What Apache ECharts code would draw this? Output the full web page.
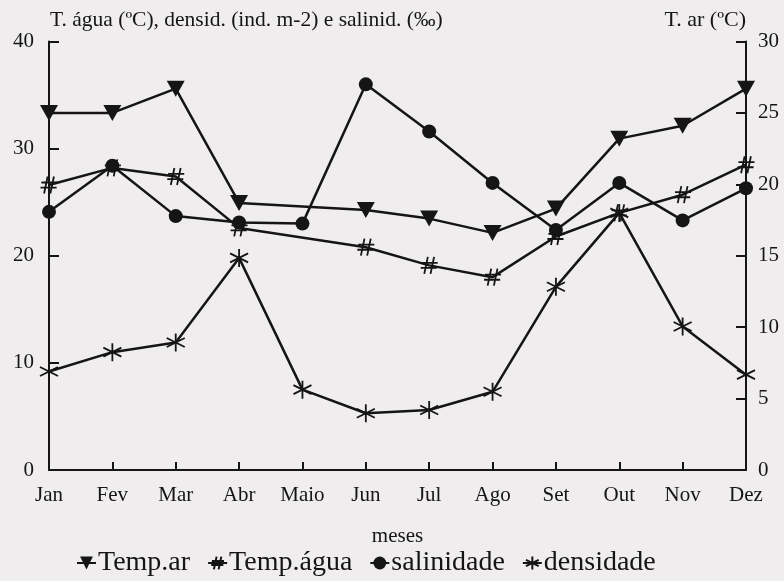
<!DOCTYPE html>
<html><head><meta charset="utf-8">
<script src="https://cdn.jsdelivr.net/npm/echarts@6/dist/echarts.min.js"></script>
<style>html,body{margin:0;padding:0;background:#efedee}#c{width:784px;height:581px}</style>
</head><body><div id="c"></div>
<script>
var months = ['Jan','Fev','Mar','Abr','Maio','Jun','Jul','Ago','Set','Out','Nov','Dez'];
var tempAr = [25.0, 25.0, 26.7, 18.7, null, 18.2, 17.6, 16.6, 18.3, 23.2, 24.1, 26.7];
var tempAgua = [26.6, 28.2, 27.4, 22.6, null, 20.8, 19.1, 18.0, 21.8, 24.0, 25.7, 28.5];
var salinidade = [24.1, 28.4, 23.7, 23.1, 23.0, 36.0, 31.6, 26.8, 22.4, 26.8, 23.3, 26.3];
var densidade = [9.2, 11.0, 11.9, 19.8, 7.5, 5.3, 5.6, 7.3, 17.1, 24.0, 13.4, 8.9];
var leftTicks = [0, 10, 20, 30, 40];
var rightTicks = [0, 5, 10, 15, 20, 25, 30];

var FONT = "'Liberation Serif', 'DejaVu Serif', serif";
var INK = '#151515';
var hashPath = 'path://M-2,-10L-6,10M5,-10L1,10M-9,-3L9,-3M-10,3L8,3';
var starPath = 'path://M0,-10L0,10M-9,-5L9,5M-9,5L9,-5';

var chart = echarts.init(document.getElementById('c'));
chart.setOption({
  backgroundColor: '#efedee',
  animation: false,
  textStyle: { fontFamily: FONT, color: INK },
  grid: { left: 49, right: 38, top: 41.5, bottom: 111, containLabel: false },
  legend: {
    top: 549, left: 76, padding: 0,
    itemWidth: 19, itemHeight: 16, itemGap: 17,
    textStyle: { fontFamily: FONT, fontSize: 28, color: INK, padding: [0,0,0,-3] },
    data: ['Temp.ar', 'Temp.água', 'salinidade', 'densidade']
  },
  graphic: [
    { type: 'text', left: 50, top: 9, style: { text: 'T. água (ºC), densid. (ind. m-2) e salinid. (‰)', font: '21.5px ' + FONT, fill: INK } },
    { type: 'text', right: 38, top: 9, style: { text: 'T. ar (ºC)', font: '22px ' + FONT, fill: INK } }
  ],
  xAxis: {
    type: 'category', data: months, boundaryGap: false,
    name: 'meses', nameLocation: 'middle', nameGap: 56,
    nameTextStyle: { fontFamily: FONT, fontSize: 21, color: INK },
    axisLine: { lineStyle: { color: INK, width: 2 } },
    axisTick: { inside: true, length: 8, lineStyle: { color: INK, width: 2 } },
    axisLabel: { fontFamily: FONT, fontSize: 21, color: INK, margin: 15 },
    splitLine: { show: false }
  },
  yAxis: [
    {
      type: 'value', min: leftTicks[0], max: leftTicks[leftTicks.length-1], interval: 10,
      axisLine: { show: true, lineStyle: { color: INK, width: 2 } },
      axisTick: { show: true, inside: true, length: 10, lineStyle: { color: INK, width: 2 } },
      axisLabel: { fontFamily: FONT, fontSize: 21, color: INK, margin: 15 },
      splitLine: { show: false }
    },
    {
      type: 'value', min: rightTicks[0], max: rightTicks[rightTicks.length-1], interval: 5, position: 'right',
      axisLine: { show: true, lineStyle: { color: INK, width: 2 } },
      axisTick: { show: true, inside: true, length: 10, lineStyle: { color: INK, width: 2 } },
      axisLabel: { fontFamily: FONT, fontSize: 21, color: INK, margin: 12 },
      splitLine: { show: false }
    }
  ],
  series: [
    {
      name: 'Temp.ar', type: 'line', yAxisIndex: 1, data: tempAr, connectNulls: true,
      symbol: 'triangle', symbolRotate: 180, symbolSize: [18, 16],
      lineStyle: { color: INK, width: 2.5 }, itemStyle: { color: INK }, z: 4
    },
    {
      name: 'Temp.água', type: 'line', yAxisIndex: 0, data: tempAgua, connectNulls: true,
      symbol: hashPath, symbolSize: 17,
      lineStyle: { color: INK, width: 2.5 },
      itemStyle: { color: 'rgba(0,0,0,0)', borderColor: INK, borderWidth: 1.8 }, z: 3
    },
    {
      name: 'salinidade', type: 'line', yAxisIndex: 0, data: salinidade,
      symbol: 'circle', symbolSize: 14,
      lineStyle: { color: INK, width: 2.5 }, itemStyle: { color: INK }, z: 5
    },
    {
      name: 'densidade', type: 'line', yAxisIndex: 0, data: densidade,
      symbol: starPath, symbolSize: 18,
      lineStyle: { color: INK, width: 2.5 },
      itemStyle: { color: 'rgba(0,0,0,0)', borderColor: INK, borderWidth: 1.8 }, z: 2
    }
  ]
});
</script>
</body></html>
